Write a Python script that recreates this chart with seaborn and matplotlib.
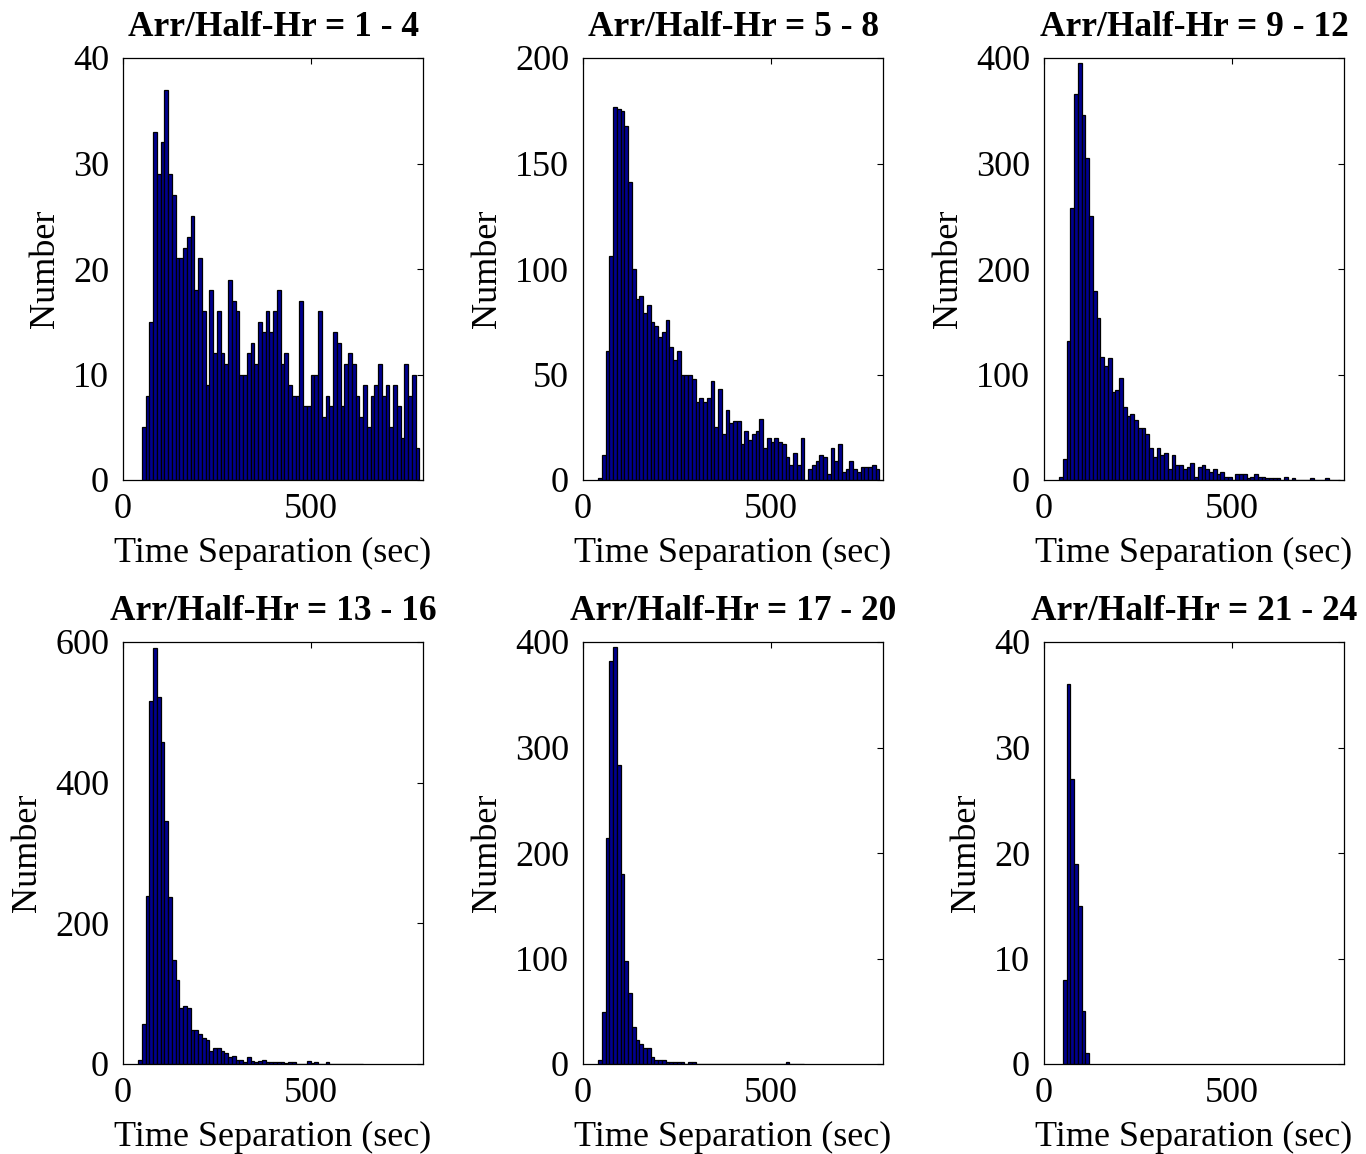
import numpy as np
import pandas as pd
import matplotlib
matplotlib.use("Agg")
import matplotlib.pyplot as plt
import seaborn as sns

sns.set_style("white")
plt.rcParams['font.family'] = ['Liberation Serif', 'DejaVu Serif']
plt.rcParams['text.color'] = 'black'
plt.rcParams['axes.labelcolor'] = 'black'

titles = ["Arr/Half-Hr = 1 - 4", "Arr/Half-Hr = 5 - 8", "Arr/Half-Hr = 9 - 12",
          "Arr/Half-Hr = 13 - 16", "Arr/Half-Hr = 17 - 20", "Arr/Half-Hr = 21 - 24"]

# first bin left edge (sec) for each panel; bin width 10 sec
start_1 = 50
counts_1 = [5, 8, 15, 33, 29, 32, 37, 29, 27, 21, 21, 22, 23, 25, 18, 21, 16, 9, 18, 12,
            16, 12, 11, 19, 17, 16, 10, 10, 12, 13, 11, 15, 14, 16, 14, 16, 18, 11, 12, 9,
            8, 8, 17, 7, 7, 10, 10, 16, 6, 8, 7, 14, 13, 7, 11, 12, 11, 8, 6, 9,
            5, 8, 9, 11, 8, 9, 5, 9, 7, 4, 11, 8, 10, 3]

start_2 = 40
counts_2 = [1, 12, 61, 106, 177, 176, 175, 168, 141, 100, 86, 87, 79, 83, 75, 73, 68, 70, 76, 63,
            57, 61, 50, 50, 50, 48, 37, 39, 37, 39, 47, 25, 43, 22, 33, 27, 28, 28, 17, 23,
            19, 22, 23, 29, 15, 20, 18, 20, 18, 17, 11, 7, 13, 7, 20, 0, 5, 7, 9, 12,
            11, 3, 15, 9, 17, 4, 5, 9, 5, 4, 6, 6, 6, 7, 5]

start_3 = 40
counts_3 = [3, 20, 132, 258, 366, 395, 346, 305, 250, 179, 154, 117, 108, 116, 83, 85, 97, 69, 61, 63,
            57, 49, 49, 44, 30, 22, 30, 24, 26, 10, 24, 14, 14, 10, 12, 16, 3, 12, 14, 10,
            8, 10, 6, 8, 3, 3, 0, 6, 6, 6, 2, 3, 6, 3, 3, 2, 2, 2, 2, 0,
            3, 0, 2, 0, 0, 0, 0, 2, 0, 0, 0, 2, 0, 0, 0]

start_4 = 40
counts_4 = [6, 57, 239, 516, 592, 522, 458, 346, 237, 148, 119, 79, 82, 79, 49, 48, 43, 37, 34, 18,
            23, 23, 19, 15, 10, 12, 6, 6, 3, 10, 4, 3, 4, 6, 3, 3, 3, 3, 3, 1,
            3, 3, 0, 0, 0, 4, 1, 3, 0, 0, 3, 0, 0, 0, 0, 0, 0, 0, 0, 0]

start_5 = 40
counts_5 = [4, 49, 214, 382, 395, 283, 180, 98, 67, 35, 23, 19, 15, 15, 7, 4, 4, 4, 2, 2,
            2, 2, 2, 0, 2, 2, 0, 0, 0, 0, 0, 0, 0, 0, 0, 0, 0, 0, 0, 0,
            0, 0, 0, 0, 0, 0, 0, 0, 0, 0, 2, 0, 0, 0, 0]

start_6 = 50
counts_6 = [8, 36, 27, 19, 15, 5, 1]

starts = [start_1, start_2, start_3, start_4, start_5, start_6]
counts_all = [counts_1, counts_2, counts_3, counts_4, counts_5, counts_6]
ylims = [40, 200, 400, 600, 400, 40]
ysteps = [10, 50, 100, 200, 100, 10]

fig = plt.figure(figsize=(13.66, 11.54), dpi=100)
lefts = [123 / 1366, 583 / 1366, 1044 / 1366]
bottoms = [1 - 480 / 1154, 1 - 1064 / 1154]
w = 300 / 1366
h = 422 / 1154

bar_color = "#00008F"
for i in range(6):
    r, c = divmod(i, 3)
    ax = fig.add_axes([lefts[c], bottoms[r], w, h])
    cnt = np.array(counts_all[i], dtype=float)
    edges = [float(e) for e in starts[i] + 10 * np.arange(len(cnt) + 1)]
    df = pd.DataFrame({"t": np.array(edges[:-1]) + 5.0, "n": cnt})
    sns.histplot(data=df, x="t", weights="n", bins=edges, ax=ax, color=bar_color,
                 edgecolor="black", linewidth=0.9, alpha=1.0, stat="count")
    ax.set_xlim(0, 800)
    ax.set_ylim(0, ylims[i])
    ax.set_xticks([0, 500])
    ax.set_yticks(np.arange(0, ylims[i] + 1, ysteps[i]))
    ax.tick_params(axis="both", which="both", direction="in", length=4, width=0.8,
                   top=True, right=True, labelsize=26, colors="black",
                   labelcolor="black")
    ax.tick_params(axis="y", pad=10)
    ax.tick_params(axis="x", pad=9)
    for s in ax.spines.values():
        s.set_color("black")
        s.set_linewidth(0.9)
    ax.set_xlabel("Time Separation (sec)", fontsize=26, labelpad=8, color="black")
    ax.set_ylabel("Number", fontsize=26, labelpad=8, color="black")
    ax.set_title(titles[i], fontsize=25.5, fontweight="bold", pad=16, color="black")

fig.savefig("out.png", dpi=100)
